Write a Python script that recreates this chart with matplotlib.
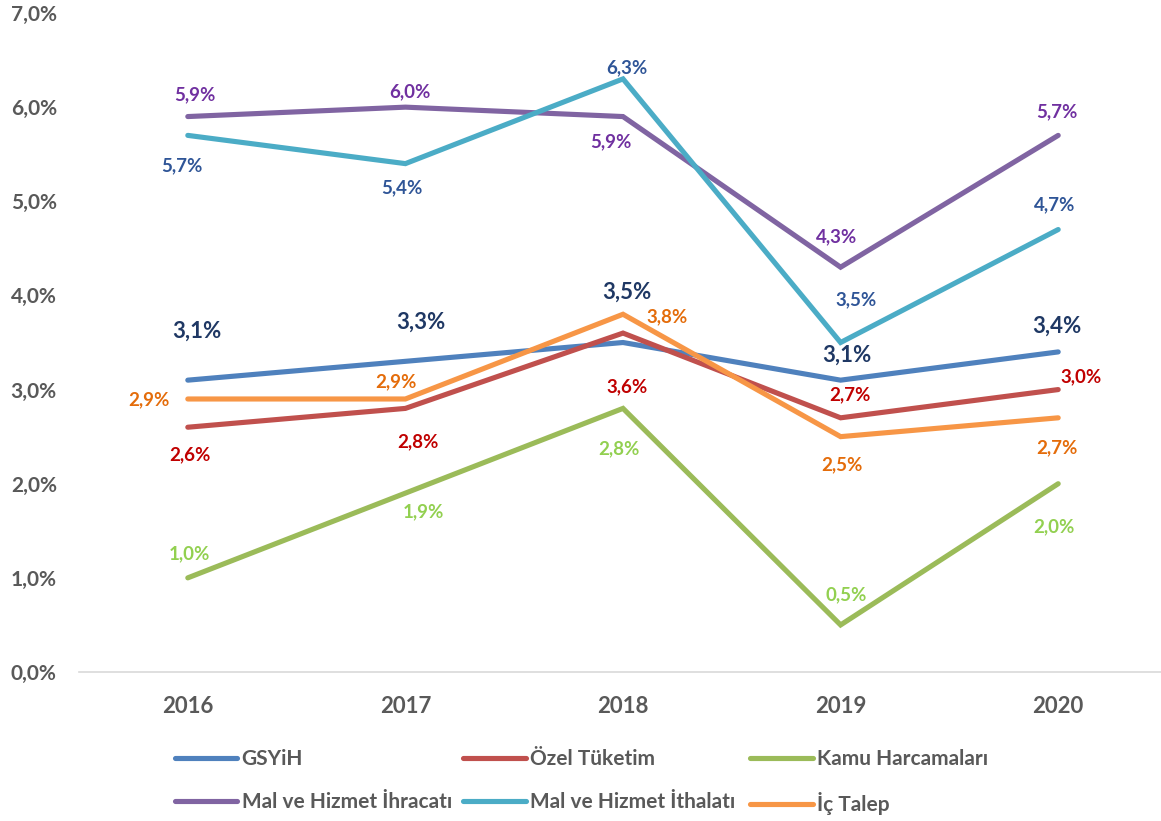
import matplotlib
matplotlib.use("Agg")
import matplotlib.pyplot as plt

plt.rcParams['font.family'] = ['Lato', 'DejaVu Sans']
plt.rcParams['font.weight'] = 'bold'

years = ['2016', '2017', '2018', '2019', '2020']
gsyih = [3.1, 3.3, 3.5, 3.1, 3.4]
ozel = [2.6, 2.8, 3.6, 2.7, 3.0]
kamu = [1.0, 1.9, 2.8, 0.5, 2.0]
ihracat = [5.9, 6.0, 5.9, 4.3, 5.7]
ithalat = [5.7, 5.4, 6.3, 3.5, 4.7]
ic_talep = [2.9, 2.9, 3.8, 2.5, 2.7]
series_names = ['GSYiH', 'Özel Tüketim', 'Kamu Harcamaları',
                'Mal ve Hizmet İhracatı', 'Mal ve Hizmet İthalatı', 'İç Talep']
yticks = [0, 1, 2, 3, 4, 5, 6, 7]

# styles
line_colors = ['#4F81BD', '#C0504D', '#9BBB59', '#8064A2', '#4BACC6', '#F79646']
label_colors = ['#1F3864', '#C00000', '#92D050', '#7030A0', '#2F5597', '#E46C0A']
label_sizes = [16, 13.5, 13.5, 13.5, 13.5, 13.5]
# label offsets in pixels (dx, dy) relative to points
offsets = [
    [(9, 49), (15, 39), (4, 50), (6, 25), (-1, 26)],
    [(2, -28), (13, -33), (4, -54), (9, 23), (23, 13)],
    [(2, 24), (18, -19), (-4, -40), (6, 30), (-4, -43)],
    [(7, 22), (5, 15), (-12, -25), (-4, 30), (-1, 24)],
    [(-6, -30), (-4, -24), (4, 11), (15, 43), (-4, 25)],
    [(-39, -1), (-9, 17), (44, -2), (1, -28), (-1, -30)],
]

W, H = 1161, 821
fig = plt.figure(figsize=(W / 100, H / 100), dpi=100)
ax = fig.add_axes([79 / W, 149 / H, 1088 / W, 659 / H])

data = [gsyih, ozel, kamu, ihracat, ithalat, ic_talep]
x = list(range(len(years)))
handles = []
for s, vals in enumerate(data):
    h, = ax.plot(x, vals, color=line_colors[s], lw=3.7, solid_capstyle='round',
                 solid_joinstyle='miter', label=series_names[s])
    handles.append(h)
    for i, v in enumerate(vals):
        ax.annotate(f"{v:.1f}%".replace('.', ','), (x[i], v),
                    xytext=offsets[s][i], textcoords='offset pixels',
                    ha='center', va='center', color=label_colors[s],
                    fontsize=label_sizes[s], fontweight='bold')

ax.set_xlim(-0.5, len(years) - 0.5)
ax.set_ylim(0, 7)
ax.set_yticks(yticks)
ax.set_yticklabels([f"{t:.1f}%".replace('.', ',') for t in yticks])
ax.set_xticks(x)
ax.set_xticklabels(years)
for sp in ['top', 'right', 'left']:
    ax.spines[sp].set_visible(False)
ax.spines['bottom'].set_color('#D9D9D9')
ax.spines['bottom'].set_linewidth(1.2)
ax.tick_params(axis='both', length=0, colors='#595959', labelsize=15)
ax.tick_params(axis='y', pad=16)
ax.tick_params(axis='x', pad=17, labelsize=16)
for lab in ax.get_xticklabels() + ax.get_yticklabels():
    lab.set_fontweight('bold')

# legend: three columns, two rows
col_x = [175, 463, 750]
pairs = [(0, 3), (1, 4), (2, 5)]
for cx, (a, b) in zip(col_x, pairs):
    leg = fig.legend(handles=[handles[a], handles[b]], loc='upper left',
                     bbox_to_anchor=(cx / W, 1 - 749 / H), frameon=False,
                     borderaxespad=0, borderpad=0, handlelength=3.0,
                     handletextpad=0.2, labelspacing=1.1,
                     prop={'size': 15, 'weight': 'bold'})
    for t in leg.get_texts():
        t.set_color('#595959')

fig.savefig('out.png', dpi=100)
